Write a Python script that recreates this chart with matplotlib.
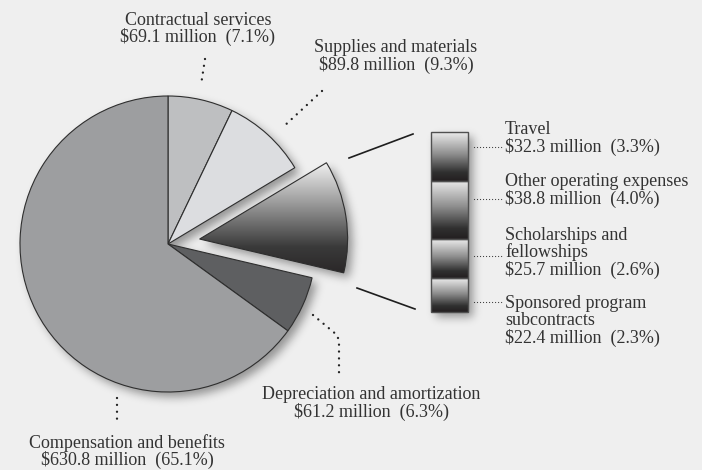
import numpy as np
import matplotlib
matplotlib.use("Agg")
import matplotlib.pyplot as plt
from matplotlib.colors import LinearSegmentedColormap
from matplotlib.path import Path

# ---------------- data ----------------
pie_names = ["Contractual services", "Supplies and materials", "Other", "Depreciation and amortization", "Compensation and benefits"]
pie_values = [69.1, 89.8, None, 61.2, 630.8]
pie_pcts = [7.1, 9.3, None, 6.3, 65.1]

bar_names = ["Travel", "Other operating expenses", "Scholarships and\nfellowships", "Sponsored program\nsubcontracts"]
bar_values = [32.3, 38.8, 25.7, 22.4]
bar_pcts = [3.3, 4.0, 2.6, 2.3]

pie_values[2] = sum(bar_values)

# ---------------- figure ----------------
W, H = 702, 470
BG = "#efefef"
TXT = "#333333"
plt.rcParams['font.family'] = ['Liberation Serif', 'DejaVu Serif']

fig = plt.figure(figsize=(W / 100, H / 100), dpi=100, facecolor=BG)
ax = fig.add_axes([0, 0, 1, 1])
ax.set_facecolor(BG)

def Y(yp):
    return H - yp

center = (168, Y(244))
radius = 148
pie_colors = ["#bebfc1", "#dcdde0", "none", "#5e5f61", "#9d9ea0"]
explode = [0, 0, 32, 0, 0]
wedges, _ = ax.pie(pie_values, colors=pie_colors, startangle=90, counterclock=False,
                   center=center, radius=radius, explode=explode,
                   wedgeprops=dict(edgecolor="#2e2e2e", linewidth=0.8))
for w in wedges:
    w.set_zorder(2)
ax.set_xlim(0, W)
ax.set_ylim(0, H)
ax.set_aspect('equal')
ax.axis('off')

# gradient for exploded wedge
ex = wedges[2]
grad_cmap = LinearSegmentedColormap.from_list("g", [(0, "#fafafa"), (0.35, "#9c9c9c"), (0.7, "#3a3a3a"), (1, "#231f20")])
g = np.linspace(0, 1, 256).reshape(-1, 1)
im = ax.imshow(g, cmap=grad_cmap, aspect='auto', extent=(180, 370, Y(285), Y(158)),
               origin='upper', zorder=1.5, interpolation='bilinear')
im.set_clip_path(ex)

# ---------------- bar ----------------
bx0, bx1, by0, by1 = 431, 468, 132, 312
bax = fig.add_axes([bx0 / W, (H - by1) / H, (bx1 - bx0) / W, (by1 - by0) / H])
bax.axis('off')
total = sum(bar_values)
bottoms = np.concatenate([[0], np.cumsum(bar_values)[:-1]])
bars = bax.bar([0] * 4, bar_values, bottom=bottoms, width=1, color="none",
               edgecolor="#505050", linewidth=1.0, zorder=3, clip_on=False)
bax.set_xlim(-0.5, 0.5)
bax.set_ylim(total, 0)
bar_cmap = LinearSegmentedColormap.from_list("b", [(0, "#ececec"), (0.45, "#8e8e8e"), (0.82, "#303030"), (1, "#231f20")])
for b, bt, v in zip(bars, bottoms, bar_values):
    gi = bax.imshow(g, cmap=bar_cmap, aspect='auto', extent=(-0.5, 0.5, bt + v, bt),
                    origin='upper', zorder=2, interpolation='bilinear')
    gi.set_clip_path(b)
bax.set_xlim(-0.5, 0.5)
bax.set_ylim(total, 0)

# ---------------- soft shadow ----------------
fig.canvas.draw()
xs = np.arange(W) + 0.5
ys = H - (np.arange(H) + 0.5)
XX, YY = np.meshgrid(xs, ys)
pts = np.column_stack([XX.ravel(), YY.ravel()])
mask = np.zeros(W * H, dtype=float)
for w in wedges:
    p = w.get_patch_transform().transform_path(w.get_path())
    mask = np.maximum(mask, p.contains_points(pts))
for b in bars:
    p = b.get_transform().transform_path(b.get_path())
    p = Path(fig.transFigure.inverted().transform(p.vertices) * [W, H])
    mask = np.maximum(mask, p.contains_points(pts))
mask = mask.reshape(H, W)
dx, dy = 5, 5
sh = np.zeros_like(mask)
sh[dy:, dx:] = mask[:-dy, :-dx]
sig = 4.5
k = np.exp(-0.5 * (np.arange(-14, 15) / sig) ** 2)
k /= k.sum()
sh = np.apply_along_axis(lambda r: np.convolve(r, k, mode='same'), 1, sh)
sh = np.apply_along_axis(lambda c: np.convolve(c, k, mode='same'), 0, sh)
rgba = np.zeros((H, W, 4))
rgba[..., 3] = 0.38 * sh
ax.imshow(rgba, extent=(0, W, 0, H), origin='upper', zorder=0.5, interpolation='bilinear')
ax.set_xlim(0, W)
ax.set_ylim(0, H)

# ---------------- connectors ----------------
ax.plot([349, 413], [Y(158), Y(134)], color="#1e1e1e", lw=1.2, zorder=3)
ax.plot([357, 415], [Y(288), Y(309)], color="#1e1e1e", lw=1.2, zorder=3)

dot_big = dict(color="#222", lw=1.7, linestyle=(0, (0.01, 2.9)), dash_capstyle='round', zorder=3)
ax.plot([205, 201], [Y(59), Y(85)], **dot_big)
ax.plot([322, 282], [Y(91), Y(128)], **dot_big)
ax.plot([313, 337, 339, 339], [Y(315), Y(335), Y(341), Y(376)], **dot_big)
ax.plot([117, 117], [Y(398), Y(421)], **dot_big)

dot_small = dict(color="#333", lw=0.9, linestyle=(0, (0.01, 2.4)), dash_capstyle='round', zorder=3)
for yl in [147, 199, 256, 302]:
    ax.plot([474, 502], [Y(yl), Y(yl)], **dot_small)

# ---------------- labels ----------------
fs = 13
ls = 0.98
def lab(i):
    return f"{pie_names[i]}\n${pie_values[i]} million  ({pie_pcts[i]}%)"

ax.text(198, Y(29), lab(0), ha='center', va='center', fontsize=fs, color=TXT, linespacing=ls)
ax.text(396, Y(56.5), lab(1), ha='center', va='center', fontsize=fs, color=TXT, linespacing=ls)
ax.text(371, Y(403.5), lab(3), ha='center', va='center', fontsize=fs, color=TXT, linespacing=ls)
ax.text(127, Y(451.5), lab(4), ha='center', va='center', fontsize=fs, color=TXT, linespacing=ls)

bar_label_y = [138.5, 190.5, 253, 321]
for name, v, pc, yc in zip(bar_names, bar_values, bar_pcts, bar_label_y):
    ax.text(505, Y(yc), f"{name}\n${v} million  ({pc}%)", ha='left', va='center',
            fontsize=fs, color=TXT, linespacing=ls, multialignment='left')

fig.savefig("out.png", dpi=100, facecolor=BG)
